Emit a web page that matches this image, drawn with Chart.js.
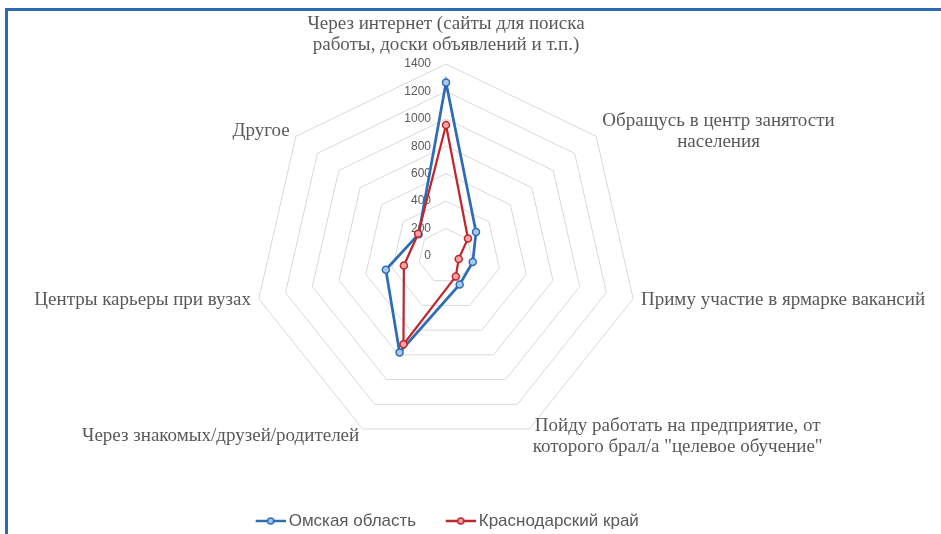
<!DOCTYPE html>
<html>
<head>
<meta charset="utf-8">
<script src="https://cdn.jsdelivr.net/npm/chart.js@4.4.1/dist/chart.umd.min.js"></script>
<style>
  html, body { margin: 0; padding: 0; background: #fff; }
  #wrap { position: relative; width: 941px; height: 534px; }
  #frame {
    position: absolute; left: 5px; top: 8px; right: 0; bottom: 0;
    border-top: 3px solid #2f69b3; border-left: 3px solid #2f69b3;
    pointer-events: none;
  }
</style>
</head>
<body>
<div id="wrap">
  <canvas id="radarChart" width="941" height="534"></canvas>
  <div id="frame"></div>
</div>
<script>
// categories (line breaks as in the picture)
const categories = [
  ["Через интернет (сайты для поиска", "работы, доски объявлений и т.п.)"],
  ["Обращусь в центр занятости", "населения"],
  ["Приму участие в ярмарке вакансий"],
  ["Пойду работать на предприятие, от", "которого брал/а \"целевое обучение\""],
  ["Через знакомых/друзей/родителей"],
  ["Центры карьеры при вузах"],
  ["Другое"]
];
const seriesNames = ["Омская область", "Краснодарский край"];
const omskValues = [1265, 280, 200, 230, 780, 450, 255];
const krasnodarValues = [955, 205, 95, 165, 715, 315, 260];
const tickValues = [0, 200, 400, 600, 800, 1000, 1200, 1400];

const BLUE = "#2e6cb5";
const RED = "#c0272d";
const TEXT = "#595959";

// legend swatch: short line with a marker, sitting in the right part of the image
function legendMarker(color, fill) {
  const c = document.createElement("canvas");
  c.width = 35; c.height = 10;
  const g = c.getContext("2d");
  g.strokeStyle = color;
  g.lineWidth = 2.5;
  g.beginPath(); g.moveTo(5, 5); g.lineTo(35, 5); g.stroke();
  g.fillStyle = fill;
  g.lineWidth = 1.5;
  g.beginPath(); g.arc(20, 5, 3, 0, Math.PI * 2); g.fill(); g.stroke();
  return c;
}

// tick labels to the left of the vertical axis, like Excel
const tickLabels = {
  id: "tickLabels",
  beforeDatasetsDraw(chart) {
    const r = chart.scales.r;
    const ctx = chart.ctx;
    ctx.save();
    ctx.font = '12px "Liberation Sans"';
    ctx.fillStyle = TEXT;
    ctx.textAlign = "right";
    ctx.textBaseline = "middle";
    tickValues.forEach(v => {
      const d = r.getDistanceFromCenterForValue(v);
      ctx.fillText(String(v), r.xCenter - 15, r.yCenter - d);
    });
    ctx.restore();
  }
};

// category labels, multi-line blocks centred line by line
const categoryLabels = {
  id: "categoryLabels",
  afterDatasetsDraw(chart) {
    const r = chart.scales.r;
    const ctx = chart.ctx;
    const lineH = 21;
    ctx.save();
    ctx.font = '19px "Liberation Serif"';
    ctx.fillStyle = TEXT;
    ctx.textAlign = "center";
    ctx.textBaseline = "middle";
    categories.forEach((lines, i) => {
      const p = r.getPointPosition(i, r.drawingArea + 8);
      const a = p.angle + Math.PI / 2;
      const sin = Math.sin(a), cos = Math.cos(a);
      const w = Math.max(...lines.map(t => ctx.measureText(t).width));
      const h = lines.length * lineH;
      let left;
      if (Math.abs(sin) < 0.1) left = p.x - w / 2;
      else if (sin > 0) left = p.x;
      else left = p.x - w;
      const top = cos > 0.95 ? p.y - h : p.y - h / 2;
      lines.forEach((t, k) => ctx.fillText(t, left + w / 2, top + lineH * k + lineH / 2));
    });
    ctx.restore();
  }
};

// move the legend row down to where Excel puts it
const legendRow = {
  id: "legendRow",
  afterLayout(chart) {
    const lg = chart.legend;
    const pad = lg.options.labels.padding;
    const fs = lg.options.labels.font.size;
    const shift = 521 - (lg.top + pad + fs / 2);
    lg.top += shift;
    lg.bottom += shift;
  }
};

new Chart(document.getElementById("radarChart"), {
  type: "radar",
  data: {
    labels: categories,
    datasets: [
      {
        label: seriesNames[0],
        data: omskValues,
        borderColor: BLUE,
        borderWidth: 2.75,
        pointRadius: 3.5,
        pointBorderWidth: 1.5,
        pointBorderColor: BLUE,
        pointBackgroundColor: "#a9c8ec",
        fill: false,
        order: 1
      },
      {
        label: seriesNames[1],
        data: krasnodarValues,
        borderColor: RED,
        borderWidth: 2.25,
        pointRadius: 3.5,
        pointBorderWidth: 1.5,
        pointBorderColor: RED,
        pointBackgroundColor: "#f2a3a3",
        fill: false,
        order: 0
      }
    ]
  },
  options: {
    responsive: false,
    animation: false,
    layout: { padding: { right: 46 } },
    elements: { line: { tension: 0 } },
    scales: {
      r: {
        min: 0,
        max: 1400,
        ticks: { stepSize: 200, display: false },
        grid: { color: "#d9d9d9", lineWidth: 1 },
        angleLines: { display: false },
        pointLabels: { display: false },
        afterFit(scale) {
          scale.xCenter = 446;
          scale.yCenter = 256;
          scale.drawingArea = 192;
        }
      }
    },
    plugins: {
      tooltip: { enabled: false },
      legend: {
        position: "bottom",
        labels: {
          usePointStyle: true,
          pointStyleWidth: 24,
          padding: 30,
          color: TEXT,
          font: { family: "Liberation Sans", size: 17 },
          sort: (a, b) => a.datasetIndex - b.datasetIndex,
          generateLabels(chart) {
            const items = Chart.defaults.plugins.legend.labels.generateLabels(chart);
            items.forEach(it => {
              const ds = chart.data.datasets[it.datasetIndex];
              it.pointStyle = legendMarker(ds.borderColor, ds.pointBackgroundColor);
            });
            return items;
          }
        }
      }
    }
  },
  plugins: [tickLabels, categoryLabels, legendRow]
});
</script>
</body>
</html>
